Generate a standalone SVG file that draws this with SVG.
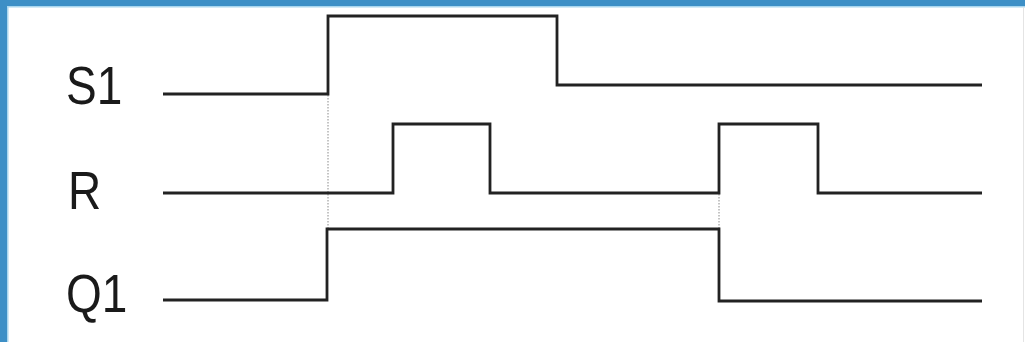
<svg xmlns="http://www.w3.org/2000/svg" width="1025" height="342" viewBox="0 0 1025 342">
<style>
.sig{fill:none;stroke:#222222;stroke-width:2.8;stroke-linejoin:miter}
.guide{fill:none;stroke:#8a8a8a;stroke-width:1;stroke-dasharray:1.5 1.5}
.lbl{font-family:"Liberation Sans",Arial,sans-serif;font-size:46px;fill:#1a1a1a}
</style>
<rect x="0" y="0" width="1025" height="342" fill="#ffffff"/>
<rect x="0" y="0" width="1025" height="6" fill="#3d8fc6"/>
<rect x="0" y="6" width="1025" height="1.5" fill="#a9d6ee"/>
<rect x="0" y="0" width="7" height="342" fill="#3d8fc6"/>
<rect x="7" y="6" width="1.5" height="336" fill="#a9d6ee"/>
<line x1="1023.5" y1="7" x2="1023.5" y2="342" stroke="#e4e4e4" stroke-width="1"/>
<g id="label-S1"><text class="lbl" transform="translate(66,104) scale(1,1.18)">S1</text></g>
<g id="label-R"><text class="lbl" transform="translate(68,209) scale(1,1.18)">R</text></g>
<g id="label-Q1"><text class="lbl" transform="translate(66,312) scale(1,1.18)">Q1</text></g>
<g id="connectors">
<line class="guide" x1="328" y1="95" x2="328" y2="229"/>
<line class="guide" x1="719" y1="194" x2="719" y2="229"/>
</g>
<g id="signal-S1"><polyline class="sig" points="163,94 328,94 328,16 557,16 557,85 982,85"/></g>
<g id="signal-R"><polyline class="sig" points="163,193 393,193 393,124 490,124 490,193 719,193 719,124 818,124 818,193 982,193"/></g>
<g id="signal-Q1"><polyline class="sig" points="163,300 327,300 327,229 719,229 719,301 982,301"/></g>
</svg>
